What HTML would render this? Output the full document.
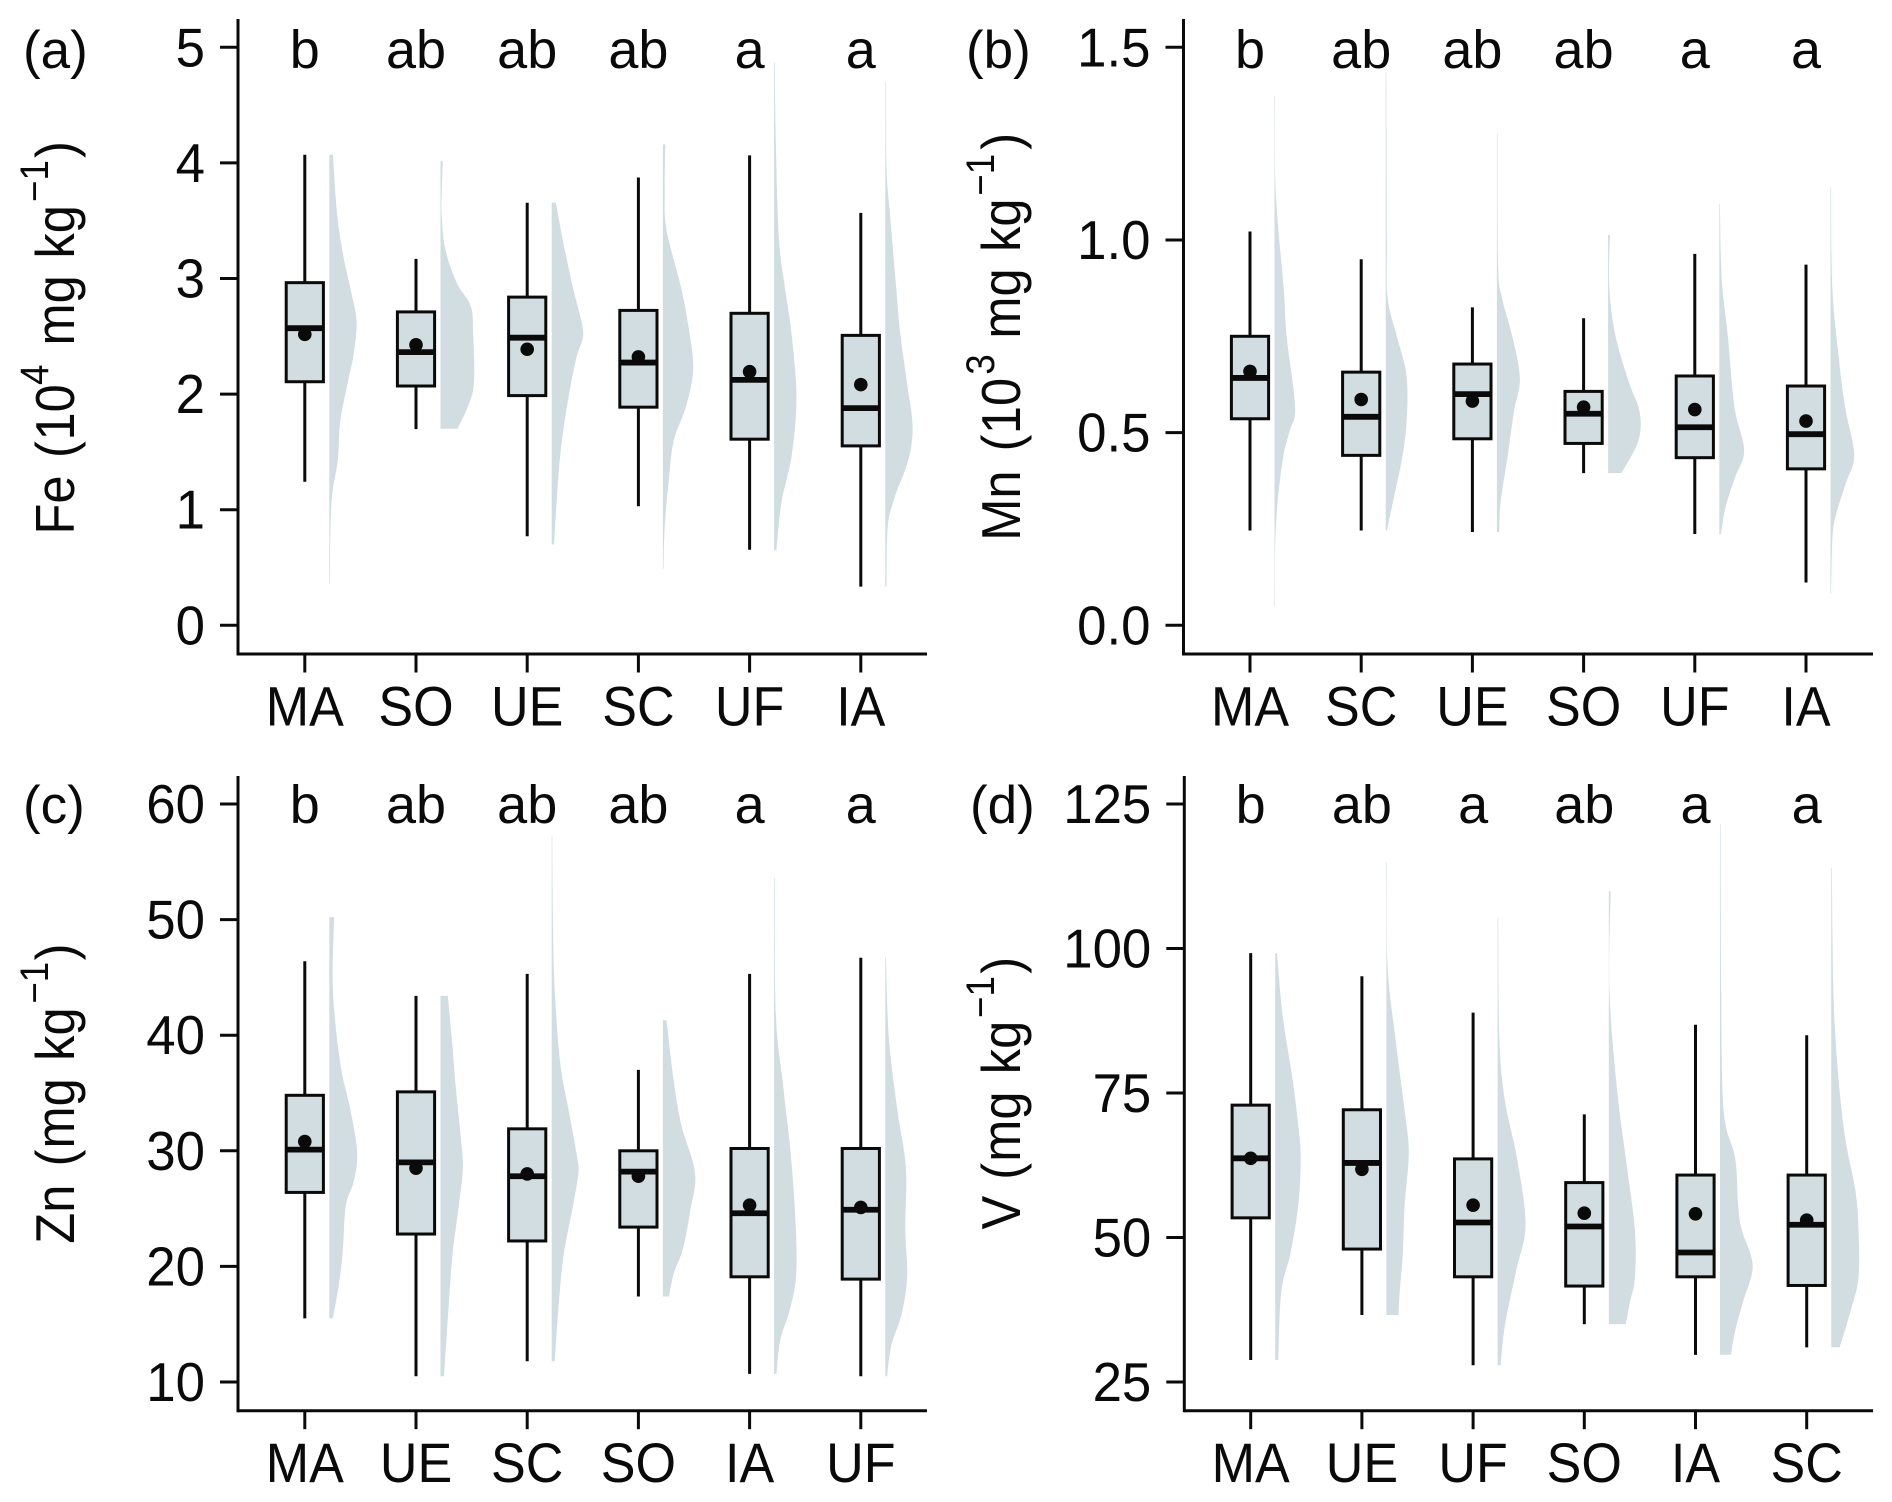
<!DOCTYPE html>
<html lang="en">
<head>
<meta charset="utf-8">
<title>Element concentrations by land use</title>
<style>
  html, body { margin: 0; padding: 0; background: #fff; }
  svg { display: block; }
  text { font-family: "Liberation Sans", Arial, sans-serif; fill: #0a0a0a; }
</style>
</head>
<body>
<svg id="chart" xmlns="http://www.w3.org/2000/svg" width="1892" height="1502" viewBox="0 0 1892 1502">
  <rect width="1892" height="1502" fill="#fff"/>
  <g id="panel-a">
    <text x="23" y="68" font-size="53">(a)</text>
    <text transform="translate(74 534.5) rotate(-90) scale(0.92 1)" font-size="55"><tspan x="0" y="0">Fe</tspan><tspan x="83.2" y="0">(</tspan><tspan x="102.2" y="0">10</tspan><tspan x="162.5" y="-26" font-size="40">4</tspan><tspan x="205.4" y="0">mg</tspan><tspan x="300" y="0">kg</tspan><tspan x="361.4" y="-26" font-size="40">−1</tspan><tspan x="409.2" y="0">)</tspan></text>
  </g>
  <g id="panel-b">
    <text x="966" y="68" font-size="53">(b)</text>
    <text transform="translate(1020 540.7) rotate(-90) scale(0.92 1)" font-size="55"><tspan x="0" y="0">Mn</tspan><tspan x="97.1" y="0">(</tspan><tspan x="115.8" y="0">10</tspan><tspan x="180.4" y="-26" font-size="40">3</tspan><tspan x="219.6" y="0">mg</tspan><tspan x="313.9" y="0">kg</tspan><tspan x="375" y="-26" font-size="40">−1</tspan><tspan x="425" y="0">)</tspan></text>
  </g>
  <g id="panel-c">
    <text x="23" y="823" font-size="53">(c)</text>
    <text transform="translate(74 1243.7) rotate(-90) scale(0.92 1)" font-size="55"><tspan x="0" y="0">Zn</tspan><tspan x="84.1" y="0">(</tspan><tspan x="103.5" y="0">mg</tspan><tspan x="198.8" y="0">kg</tspan><tspan x="260.9" y="-26" font-size="40">−1</tspan><tspan x="308" y="0">)</tspan></text>
  </g>
  <g id="panel-d">
    <text x="970" y="823" font-size="53">(d)</text>
    <text transform="translate(1020 1229.5) rotate(-90) scale(0.92 1)" font-size="55"><tspan x="0" y="0">V</tspan><tspan x="54.1" y="0">(</tspan><tspan x="73.6" y="0">mg</tspan><tspan x="168.8" y="0">kg</tspan><tspan x="229.9" y="-26" font-size="40">−1</tspan><tspan x="278" y="0">)</tspan></text>
  </g>
</svg>
<script>
/* ---------- Panel (a) Fe ---------- */
const feCategories = ['MA', 'SO', 'UE', 'SC', 'UF', 'IA'];
const feLetters = ['b', 'ab', 'ab', 'ab', 'a', 'a'];
const feTicks = [0, 1, 2, 3, 4, 5];
const feTickLabels = ['0', '1', '2', '3', '4', '5'];
const feWhiskerHigh = [4.07, 3.17, 3.655, 3.874, 4.065, 3.568];
const feQ3 = [2.964, 2.711, 2.839, 2.724, 2.699, 2.508];
const feMedian = [2.57, 2.363, 2.488, 2.273, 2.123, 1.879];
const feQ1 = [2.107, 2.07, 1.987, 1.887, 1.61, 1.552];
const feWhiskerLow = [1.242, 1.697, 0.77, 1.03, 0.654, 0.335];
const feMean = [2.517, 2.426, 2.388, 2.322, 2.194, 2.082];
const feDensityAt = [
  [4.07, 3.55, 3.17, 2.84, 2.62, 2.34, 2.09, 1.76, 1.43, 1.14, 0.85, 0.36],
  [4.015, 3.74, 3.54, 3.25, 2.96, 2.76, 2.51, 2.09, 1.89, 1.7],
  [3.655, 3.34, 2.92, 2.715, 2.51, 2.3, 1.89, 1.47, 1.06, 0.7],
  [4.16, 3.75, 3.42, 2.92, 2.59, 2.22, 1.89, 1.6, 1.27, 0.85, 0.49],
  [4.87, 4.16, 3.34, 2.92, 2.51, 1.97, 1.47, 1.06, 0.65],
  [4.7, 3.96, 3.54, 2.92, 2.51, 2.09, 1.72, 1.43, 1.1, 0.85, 0.335]
];
const feDensity = [
  [6, 13, 24, 38, 45, 40, 30, 18, 14, 5, 2, 1],
  [4, 2, 2, 8, 27, 50, 54, 55, 45, 28],
  [7, 18, 35, 45, 52, 40, 25, 14, 8, 4],
  [4, 3, 6, 30, 42, 50, 38, 18, 10, 3, 1],
  [1, 3, 8, 18, 29, 37, 29, 12, 4],
  [1, 2, 8, 18, 25, 36, 45, 38, 15, 4, 2]
];

/* ---------- Panel (b) Mn ---------- */
const mnCategories = ['MA', 'SC', 'UE', 'SO', 'UF', 'IA'];
const mnLetters = ['b', 'ab', 'ab', 'ab', 'a', 'a'];
const mnTicks = [0, 0.5, 1, 1.5];
const mnTickLabels = ['0.0', '0.5', '1.0', '1.5'];
const mnWhiskerHigh = [1.022, 0.95, 0.825, 0.797, 0.964, 0.936];
const mnQ3 = [0.75, 0.657, 0.678, 0.607, 0.647, 0.621];
const mnMedian = [0.642, 0.541, 0.6, 0.549, 0.514, 0.496];
const mnQ1 = [0.536, 0.441, 0.484, 0.472, 0.435, 0.406];
const mnWhiskerLow = [0.246, 0.246, 0.242, 0.395, 0.237, 0.111];
const mnMean = [0.659, 0.586, 0.582, 0.566, 0.56, 0.53];
const mnDensityAt = [
  [1.373, 1.125, 0.877, 0.752, 0.566, 0.504, 0.442, 0.318, 0.194, 0.05],
  [1.435, 1.0, 0.852, 0.752, 0.653, 0.541, 0.442, 0.343, 0.246],
  [1.277, 0.939, 0.852, 0.752, 0.641, 0.554, 0.442, 0.318, 0.242],
  [1.013, 0.877, 0.752, 0.628, 0.554, 0.479, 0.395],
  [1.093, 0.901, 0.752, 0.566, 0.454, 0.38, 0.305, 0.237],
  [1.137, 0.877, 0.69, 0.566, 0.442, 0.368, 0.281, 0.219, 0.082]
];
const mnDensity = [
  [1, 2, 15, 20, 34, 25, 15, 5, 1, 1],
  [1, 2, 3, 18, 34, 35, 28, 15, 2],
  [1, 2, 8, 25, 38, 28, 18, 6, 4],
  [3, 2, 12, 35, 52, 50, 22],
  [1, 4, 14, 25, 41, 25, 10, 3],
  [1, 3, 14, 24, 39, 25, 8, 3, 1]
];

/* ---------- Panel (c) Zn ---------- */
const znCategories = ['MA', 'UE', 'SC', 'SO', 'IA', 'UF'];
const znLetters = ['b', 'ab', 'ab', 'ab', 'a', 'a'];
const znTicks = [10, 20, 30, 40, 50, 60];
const znTickLabels = ['10', '20', '30', '40', '50', '60'];
const znWhiskerHigh = [46.4, 43.4, 45.3, 37.0, 45.3, 46.7];
const znQ3 = [34.8, 35.1, 31.9, 30.0, 30.2, 30.2];
const znMedian = [30.1, 29.0, 27.8, 28.2, 24.6, 24.9];
const znQ1 = [26.4, 22.8, 22.2, 23.4, 19.1, 18.9];
const znWhiskerLow = [15.5, 10.5, 11.8, 17.4, 10.7, 10.5];
const znMean = [30.8, 28.5, 28.0, 27.8, 25.3, 25.1];
const znDensityAt = [
  [50.2, 43.9, 37.6, 33.5, 29.8, 27.3, 25.2, 21.1, 18.2, 15.5],
  [43.4, 38.9, 35.6, 31.4, 28.5, 25.2, 21.1, 17, 10.5],
  [57.3, 50, 43.9, 37.6, 33.5, 29.4, 28.1, 25.2, 21.1, 17, 11.8],
  [41.3, 36.4, 32.3, 28.1, 24.8, 21.5, 19.4, 17.4],
  [53.6, 41.8, 35.6, 29.4, 23.2, 19, 16.1, 13.6, 10.7],
  [46.7, 39.7, 33.5, 28.5, 23.2, 19, 15.7, 13.2, 10.5]
];
const znDensity = [
  [8, 6, 18, 35, 46, 40, 27, 22, 15, 6],
  [12, 20, 25, 33, 37, 30, 20, 14, 6],
  [1, 2, 5, 14, 28, 42, 44, 35, 20, 12, 5],
  [6, 17, 30, 53, 45, 33, 18, 10],
  [1, 3, 15, 28, 36, 36, 25, 10, 4],
  [1, 6, 20, 34, 33, 36, 26, 10, 3]
];

/* ---------- Panel (d) V ---------- */
const vCategories = ['MA', 'UE', 'UF', 'SO', 'IA', 'SC'];
const vLetters = ['b', 'ab', 'a', 'ab', 'a', 'a'];
const vTicks = [25, 50, 75, 100, 125];
const vTickLabels = ['25', '50', '75', '100', '125'];
const vWhiskerHigh = [99.2, 95.2, 88.9, 71.3, 86.8, 85.0];
const vQ3 = [72.9, 72.1, 63.6, 59.5, 60.8, 60.8];
const vMedian = [63.7, 62.9, 52.6, 51.9, 47.4, 52.2];
const vQ1 = [53.4, 48.0, 43.2, 41.6, 43.2, 41.7];
const vWhiskerLow = [28.8, 36.6, 27.9, 35.0, 29.7, 31.0];
const vMean = [63.7, 61.8, 55.6, 54.2, 54.1, 53.0];
const vDensityAt = [
  [99.2, 88.6, 77.8, 69.5, 63.7, 55.5, 47.2, 40.6, 28.8],
  [114.9, 96.9, 84.4, 72, 64.7, 55.5, 47.2, 40.6, 36.6],
  [105.4, 84.4, 73.7, 63.7, 52.2, 44, 34.8, 27.9],
  [109.9, 92.7, 76.2, 63.7, 51.3, 43, 38.9, 35],
  [121.5, 92.7, 72, 63.7, 55.5, 51.3, 45.1, 38.9, 33.9, 29.7],
  [114, 88.6, 69.5, 58, 51.3, 43, 37.3, 31]
];
const vDensity = [
  [3, 12, 28, 38, 42, 38, 25, 10, 5],
  [1, 2, 15, 30, 37, 30, 27, 22, 20],
  [1, 3, 12, 32, 46, 30, 12, 5],
  [3, 1, 13, 28, 43, 43, 35, 28],
  [1, 2, 6, 25, 30, 36, 54, 38, 25, 18],
  [1, 5, 20, 40, 45, 45, 32, 14]
];

/* ---------- Layout (pixel geometry lives here, not in the data) ---------- */
const NS = 'http://www.w3.org/2000/svg';
const FILL = '#d2dde1';
const INK = '#0a0a0a';
const LINE = 3;

const panels = [
  { id: 'panel-a', key: 'fe', cats: feCategories, letters: feLetters, ticks: feTicks, tickLabels: feTickLabels,
    high: feWhiskerHigh, q3: feQ3, med: feMedian, q1: feQ1, low: feWhiskerLow, mean: feMean, dAt: feDensityAt, d: feDensity,
    axisX: 238, axisRight: 927, axisTop: 19, axisBottom: 654, firstCat: 304.8, catStep: 111.2,
    tickMin: 0, tickMax: 5, yMin: 625.3, yMax: 47.3, letterY: 68, labelY: 725.5 },
  { id: 'panel-b', key: 'mn', cats: mnCategories, letters: mnLetters, ticks: mnTicks, tickLabels: mnTickLabels,
    high: mnWhiskerHigh, q3: mnQ3, med: mnMedian, q1: mnQ1, low: mnWhiskerLow, mean: mnMean, dAt: mnDensityAt, d: mnDensity,
    axisX: 1183.5, axisRight: 1873, axisTop: 19, axisBottom: 654, firstCat: 1250, catStep: 111.2,
    tickMin: 0, tickMax: 1.5, yMin: 625.3, yMax: 47.3, letterY: 68, labelY: 725.5 },
  { id: 'panel-c', key: 'zn', cats: znCategories, letters: znLetters, ticks: znTicks, tickLabels: znTickLabels,
    high: znWhiskerHigh, q3: znQ3, med: znMedian, q1: znQ1, low: znWhiskerLow, mean: znMean, dAt: znDensityAt, d: znDensity,
    axisX: 238, axisRight: 927, axisTop: 776, axisBottom: 1410.7, firstCat: 304.8, catStep: 111.2,
    tickMin: 10, tickMax: 60, yMin: 1382, yMax: 804, letterY: 823, labelY: 1482 },
  { id: 'panel-d', key: 'v', cats: vCategories, letters: vLetters, ticks: vTicks, tickLabels: vTickLabels,
    high: vWhiskerHigh, q3: vQ3, med: vMedian, q1: vQ1, low: vWhiskerLow, mean: vMean, dAt: vDensityAt, d: vDensity,
    axisX: 1184.3, axisRight: 1873, axisTop: 776, axisBottom: 1410.7, firstCat: 1250.7, catStep: 111.2,
    tickMin: 25, tickMax: 125, yMin: 1382, yMax: 804, letterY: 823, labelY: 1482 }
];

function svgEl(tag, parent, attrs) {
  const node = document.createElementNS(NS, tag);
  for (const k in attrs) node.setAttribute(k, attrs[k]);
  parent.appendChild(node);
  return node;
}

function smoothPath(pts) {
  /* Catmull-Rom through the density outline */
  let out = '';
  for (let i = 0; i < pts.length - 1; i++) {
    const p0 = pts[Math.max(i - 1, 0)], p1 = pts[i], p2 = pts[i + 1], p3 = pts[Math.min(i + 2, pts.length - 1)];
    const c1x = p1[0] + (p2[0] - p0[0]) / 6, c1y = p1[1] + (p2[1] - p0[1]) / 6;
    const c2x = p2[0] - (p3[0] - p1[0]) / 6, c2y = p2[1] - (p3[1] - p1[1]) / 6;
    out += ' C' + c1x.toFixed(1) + ' ' + c1y.toFixed(1) + ' ' + c2x.toFixed(1) + ' ' + c2y.toFixed(1) + ' ' + p2[0].toFixed(1) + ' ' + p2[1].toFixed(1);
  }
  return out;
}

panels.forEach(function (p) {
  const g = document.getElementById(p.id);
  const yScale = function (v) { return p.yMin + (v - p.tickMin) / (p.tickMax - p.tickMin) * (p.yMax - p.yMin); };
  const xScale = function (i) { return p.firstCat + i * p.catStep; };
  const densityScale = function (d) { return d / 1.649; };

  /* axes */
  const yAxis = svgEl('line', g, { x1: p.axisX, x2: p.axisX, y1: p.axisTop, y2: p.axisBottom + 1.5, stroke: INK, 'stroke-width': LINE });
  
  
  const xAxis = svgEl('line', g, { x1: p.axisX, x2: p.axisRight, y1: p.axisBottom, y2: p.axisBottom, stroke: INK, 'stroke-width': LINE });
  
  

  /* y ticks */
  p.ticks.forEach(function (t, i) {
    const y = yScale(t);
    const tick = svgEl('line', g, { x1: p.axisX - 18, x2: p.axisX, y1: y, y2: y, stroke: INK, 'stroke-width': LINE });
    
    
    const label = svgEl('text', g, { transform: 'translate(' + (p.axisX - 33) + ' ' + (y + 19) + ') scale(0.96 1)', 'text-anchor': 'end', 'font-size': 55 });
    
    
    label.textContent = p.tickLabels[i];
  });

  p.cats.forEach(function (cat, i) {
    const x = xScale(i);

    /* x tick and label */
    const tick = svgEl('line', g, { x1: x, x2: x, y1: p.axisBottom, y2: p.axisBottom + 18.5, stroke: INK, 'stroke-width': LINE });
    
    
    const label = svgEl('text', g, { transform: 'translate(' + x + ' ' + p.labelY + ') scale(0.93 1)', 'text-anchor': 'middle', 'font-size': 56 });
    
    
    label.textContent = cat;

    /* significance letter */
    const letter = svgEl('text', g, { x: x, y: p.letterY, 'text-anchor': 'middle', 'font-size': 54 });
    
    
    letter.textContent = p.letters[i];

    /* half-violin density */
    const base = x + 24.5;
    const outline = p.dAt[i].map(function (v, j) { return [base + densityScale(p.d[i][j]), yScale(v)]; });
    const first = outline[0], last = outline[outline.length - 1];
    const dPath = 'M' + base.toFixed(1) + ' ' + first[1].toFixed(1) + ' L' + first[0].toFixed(1) + ' ' + first[1].toFixed(1) +
      smoothPath(outline) + ' L' + base.toFixed(1) + ' ' + last[1].toFixed(1) + ' Z';
    const violin = svgEl('path', g, { d: dPath, fill: FILL });
    
    

    /* whisker */
    const whisker = svgEl('line', g, { x1: x, x2: x, y1: yScale(p.high[i]), y2: yScale(p.low[i]), stroke: INK, 'stroke-width': LINE });
    
    

    /* box */
    const top = yScale(p.q3[i]), bottom = yScale(p.q1[i]);
    const box = svgEl('rect', g, { x: x - 18.6, y: top, width: 37.2, height: bottom - top, fill: FILL, stroke: INK, 'stroke-width': LINE });
    
    

    /* mean */
    const dot = svgEl('circle', g, { cx: x, cy: yScale(p.mean[i]), r: 6.8, fill: INK });
    
    

    /* median */
    const med = svgEl('line', g, { x1: x - 18.6, x2: x + 18.6, y1: yScale(p.med[i]), y2: yScale(p.med[i]), stroke: INK, 'stroke-width': 5.8 });
    
    
  });
});
</script>
</body>
</html>
